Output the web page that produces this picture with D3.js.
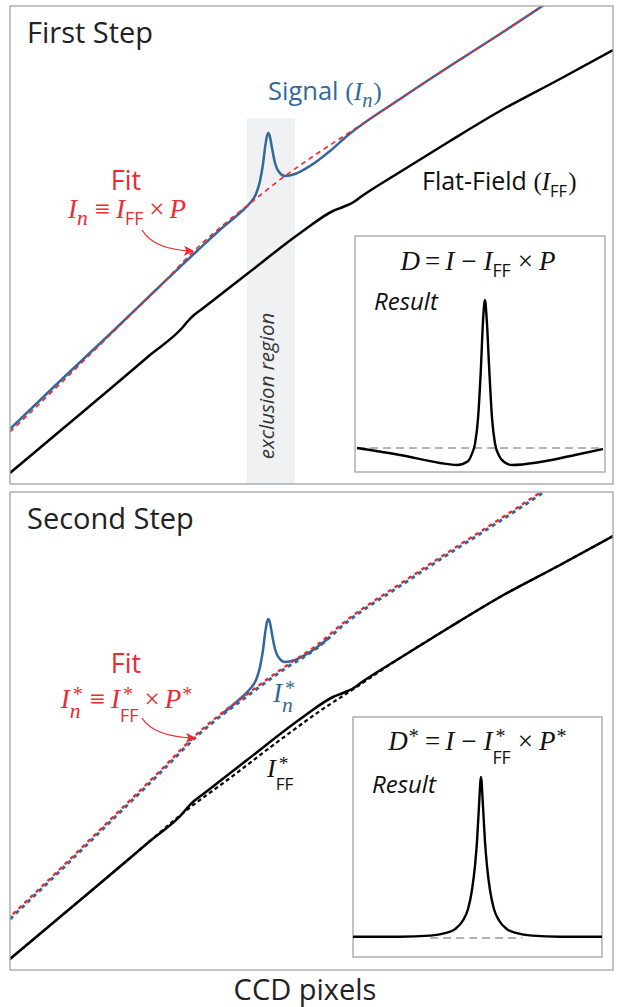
<!DOCTYPE html>
<html>
<head>
<meta charset="utf-8">
<script src="https://cdn.jsdelivr.net/npm/d3@7"></script>
<style>
  body { margin: 0; background: #fff; }
  svg { display: block; }
  text { white-space: pre; }
</style>
</head>
<body>
<div id="chart"></div>
<script>
// Values: x = CCD pixel, y = intensity (arbitrary units)
const signal = [[0,55],[50,103],[100,150],[150,198],[187,233],[212,256],[232,273],[240,281],[246,290],[250,303],[253,320],[255,336],[257,348],[258.5,351],[260,347],[262,336],[265,321],[269,312],[275,308],[285,310],[300,318],[320,333],[337,348],[390,385],[440,418],[490,450],[540,483]];
const fit1 = [[0,52],[50,100],[100,149],[150,198],[187,236],[212,258],[238,279],[275,308],[305,329],[337,350],[390,385],[440,418],[490,450],[540,483]];
const flatField = [[0,11],[50,53],[100,95],[140,129],[173,157],[178,163],[184,169],[192,175],[237,210],[293,253],[323,273],[333,277],[342,281],[352,288],[390,312],[440,343],[490,373],[550,405],[603,434]];
const flatFieldStar = [[0,11],[50,53],[100,95],[140,129],[173,157],[220,192],[270,230],[310,259],[345,282],[390,312],[440,343],[490,373],[550,405],[603,434]];
const fitStar = [[0,53],[50,101],[100,150],[150,199],[187,236],[240,278],[273,302],[307,325],[337,350],[390,386],[440,419],[490,451],[540,484]];
const signalStar = [[0,51],[50,99],[100,148],[150,197],[187,234],[240,276],[273,300],[307,322],[337,348],[390,384],[440,417],[490,449],[540,482]];
const exclusion = [237, 285];
const exclusionTop = 366;
// insets: x = 0..100 across the inset, y = difference (peak = 10)
const result1 = [[0,0],[17.5,-0.47],[33.7,-1.01],[40.7,-1.15],[45.1,-0.9],[46.7,-0.4],[48.0,0.3],[49.2,2.0],[50.4,5.5],[51.2,8.5],[52.0,10],[52.8,8.5],[53.7,5.5],[54.9,2.0],[56.1,0.3],[57.7,-0.5],[59.8,-0.95],[63.0,-1.15],[74.4,-0.95],[88.6,-0.47],[100,-0.07]];
const result2 = [[0,0.08],[18.9,0.08],[30.9,0.15],[36.9,0.3],[41.0,0.55],[44.2,1.1],[46.2,1.8],[47.8,3.0],[49.0,4.5],[49.8,6.0],[50.6,8.2],[51.4,10],[52.2,8.2],[53.0,6.0],[53.8,4.5],[55.0,3.0],[56.6,1.8],[58.6,1.1],[61.8,0.55],[65.9,0.3],[71.9,0.15],[83.1,0.08],[100,0.08]];
const zeroLine1 = [0, 100];
const zeroLine2 = [31, 68];
const arrowTips = [[183, 233], [185, 232]];

const W = 633, H = 1007;
const blue = "#31699c", red = "#ec2a2f", grey = "#a3a3a3";
const sans = "'Open Sans', 'Noto Sans', sans-serif";
const serif = "'Liberation Serif', 'DejaVu Serif', serif";

const svg = d3.select("#chart").append("svg").attr("width", W).attr("height", H);
const defs = svg.append("defs");
defs.append("marker").attr("id", "arrow").attr("viewBox", "0 0 10 10")
  .attr("refX", 9).attr("refY", 5).attr("markerWidth", 10).attr("markerHeight", 10)
  .attr("markerUnits", "userSpaceOnUse").attr("orient", "auto")
  .append("path").attr("d", "M0,0L10,5L0,10L2.5,5Z").attr("fill", red);

const x = d3.scaleLinear([0, 603], [10, 613]);
const panels = [
  { top: 6, bottom: 484 },
  { top: 492, bottom: 970 }
];

function piece(g, str, px, py, font, size, italic) {
  const t = g.append("text").attr("x", px).attr("y", py)
    .style("font-family", font).style("font-size", size + "px")
    .style("font-style", italic ? "italic" : "normal").text(str);
  return t.node().getComputedTextLength();
}

// lays out text pieces one after another; {sup, sub} pieces stack on one spot
function formula(parent, px, py, parts, size, color, anchor) {
  const g = parent.append("g").attr("fill", color);
  let cx = 0;
  for (const p of parts) {
    const pad = p.pad || 0;
    if (p.t != null) {
      cx += pad;
      cx += piece(g, p.t, cx, 0, p.serif ? serif : sans, p.size || size, p.it);
      cx += pad;
    } else {
      const stacked = !!p.sup && !!p.sub;
      let w1 = 0, w2 = 0;
      const sd = p.supDx == null ? 2 : p.supDx;
      if (p.sup) w1 = sd + piece(g, p.sup, cx + sd, -size * 0.26, serif, size * 0.75, false);
      if (p.sub) {
        const dy = p.subSerif ? (stacked ? 0.38 : 0.26) : (stacked ? 0.5 : 0.26);
        w2 = piece(g, p.sub, cx, size * dy, p.subSerif ? serif : sans,
          p.subSerif ? size * 0.8 : size * 0.66, p.subSerif);
      }
      cx += Math.max(w1, w2) + 1;
    }
  }
  const off = anchor === "middle" ? -cx / 2 : anchor === "end" ? -cx : 0;
  g.attr("transform", `translate(${px + off},${py})`);
  return g;
}

panels.forEach((p, i) => {
  const y = d3.scaleLinear([0, 478], [p.bottom, p.top]);
  const g = svg.append("g");
  const clipId = "clip" + i;
  defs.append("clipPath").attr("id", clipId).append("rect")
    .attr("x", 10).attr("y", p.top).attr("width", 603).attr("height", p.bottom - p.top);

  const line = d3.line().x(d => x(d[0])).y(d => y(d[1])).curve(d3.curveMonotoneX);
  const plot = g.append("g").attr("clip-path", `url(#${clipId})`);

  if (i === 0) {
    plot.append("rect")
      .attr("x", x(exclusion[0])).attr("width", x(exclusion[1]) - x(exclusion[0]))
      .attr("y", y(exclusionTop)).attr("height", y(0) - y(exclusionTop))
      .attr("fill", "#f0f1f3");
    plot.append("text")
      .attr("transform", `translate(${(x(exclusion[0]) + x(exclusion[1])) / 2 + 3},${386}) rotate(-90)`)
      .attr("text-anchor", "middle").style("font-family", sans).style("font-size", "20.5px")
      .style("font-style", "italic").attr("fill", "#333").text("exclusion region");

    plot.append("path").datum(flatField).attr("d", line)
      .attr("fill", "none").attr("stroke", "#000").attr("stroke-width", 2.5);
    plot.append("path").datum(signal).attr("d", line)
      .attr("fill", "none").attr("stroke", blue).attr("stroke-width", 2.5);
    plot.append("path").datum(fit1).attr("d", line)
      .attr("fill", "none").attr("stroke", red).attr("stroke-width", 1.6)
      .attr("stroke-dasharray", "5,4");
  } else {
    plot.append("path").datum(flatField).attr("d", line)
      .attr("fill", "none").attr("stroke", "#000").attr("stroke-width", 2.5);
    plot.append("path").datum(flatFieldStar).attr("d", line)
      .attr("fill", "none").attr("stroke", "#000").attr("stroke-width", 2.2)
      .attr("stroke-dasharray", "4,3");
    plot.append("path").datum(signal.filter(d => d[0] >= 190 && d[0] <= 330)).attr("d", line)
      .attr("fill", "none").attr("stroke", blue).attr("stroke-width", 2.5);
    plot.append("path").datum(signalStar).attr("d", line)
      .attr("fill", "none").attr("stroke", blue).attr("stroke-width", 3)
      .attr("stroke-dasharray", "4,4");
    plot.append("path").datum(fitStar).attr("d", line)
      .attr("fill", "none").attr("stroke", red).attr("stroke-width", 2.4)
      .attr("stroke-dasharray", "4,4").attr("stroke-dashoffset", 4);
  }

  g.append("rect").attr("x", 10).attr("y", p.top).attr("width", 603)
    .attr("height", p.bottom - p.top).attr("fill", "none")
    .attr("stroke", grey).attr("stroke-width", 1.3);

  // title
  g.append("text").attr("x", 27).attr("y", p.top + 37)
    .style("font-family", sans).style("font-size", "29px").attr("fill", "#222")
    .text(i === 0 ? "First Step" : "Second Step");

  // fit label + arrow
  const star = i === 1;
  g.append("text").attr("x", 126).attr("y", p.top + (i === 0 ? 184 : 181))
    .attr("text-anchor", "middle").style("font-family", sans).style("font-size", "27px")
    .attr("fill", red).text("Fit");
  formula(g, 127, p.top + (i === 0 ? 212 : 216), [
    { t: "I", serif: true, it: true },
    star ? { sup: "*", sub: "n", subSerif: true, supDx: 3 } : { sub: "n", subSerif: true },
    { t: "≡", serif: true, pad: 6 },
    { t: "I", serif: true, it: true },
    star ? { sup: "*", sub: "FF", supDx: 3 } : { sub: "FF" },
    { t: "×", serif: true, pad: 5 },
    { t: "P", serif: true, it: true },
    star ? { sup: "*", supDx: 1 } : null
  ].filter(Boolean), 27, red, "middle");

  const tip = arrowTips[i];
  const tx = x(tip[0]), ty = y(tip[1]);
  const sx = x(132), sy = p.top + (i === 0 ? 224 : 226);
  g.append("path")
    .attr("d", `M${sx},${sy} Q${sx + 12},${ty - 1} ${tx},${ty}`)
    .attr("fill", "none").attr("stroke", red).attr("stroke-width", 1.3)
    .attr("marker-end", "url(#arrow)");

  if (i === 0) {
    formula(g, 268, 100, [
      { t: "Signal " }, { t: "(", serif: true }, { t: "I", serif: true, it: true },
      { sub: "n", subSerif: true }, { t: ")", serif: true }
    ], 25.5, blue, "start");
    formula(g, 422, 190, [
      { t: "Flat-Field " }, { t: "(", serif: true }, { t: "I", serif: true, it: true },
      { sub: "FF" }, { t: ")", serif: true }
    ], 25, "#111", "start");
  } else {
    formula(g, 273, 702, [
      { t: "I", serif: true, it: true }, { sup: "*", sub: "n", subSerif: true, supDx: 3 }
    ], 27, blue, "start");
    formula(g, 267, 777, [
      { t: "I", serif: true, it: true }, { sup: "*", sub: "FF", supDx: 3 }
    ], 26, "#111", "start");
  }

  // inset
  const ins = i === 0
    ? { l: 355, r: 605, t: 236, b: 472, base: 448, peak: 300, data: result1, zero: zeroLine1, cl: 357, cr: 603 }
    : { l: 353, r: 602, t: 717, b: 957, base: 938, peak: 777, data: result2, zero: zeroLine2, cl: 353, cr: 602 };
  const ix = d3.scaleLinear([0, 100], [ins.cl, ins.cr]);
  const iy = d3.scaleLinear([0, 10], [ins.base, ins.peak]);
  const ig = g.append("g");
  ig.append("rect").attr("x", ins.l).attr("y", ins.t).attr("width", ins.r - ins.l)
    .attr("height", ins.b - ins.t).attr("fill", "#fff").attr("stroke", grey).attr("stroke-width", 1.3);
  ig.append("line").attr("x1", ix(ins.zero[0])).attr("x2", ix(ins.zero[1]))
    .attr("y1", iy(0)).attr("y2", iy(0)).attr("stroke", "#999").attr("stroke-width", 1.6)
    .attr("stroke-dasharray", "8,5");
  const iline = d3.line().x(d => ix(d[0])).y(d => iy(d[1])).curve(d3.curveMonotoneX);
  ig.append("path").datum(ins.data).attr("d", iline)
    .attr("fill", "none").attr("stroke", "#000").attr("stroke-width", 2.4);

  formula(ig, 478, i === 0 ? 270 : 750, [
    { t: "D", serif: true, it: true },
    star ? { sup: "*", supDx: 1 } : null,
    { t: "=", serif: true, pad: 5 },
    { t: "I", serif: true, it: true },
    { t: "−", serif: true, pad: 7 },
    { t: "I", serif: true, it: true },
    star ? { sup: "*", sub: "FF", supDx: 3 } : { sub: "FF" },
    { t: "×", serif: true, pad: 6 },
    { t: "P", serif: true, it: true },
    star ? { sup: "*", supDx: 1 } : null
  ].filter(Boolean), 27, "#111", "middle");
  ig.append("text").attr("x", ins.l + 19).attr("y", i === 0 ? 310 : 793)
    .style("font-family", sans).style("font-size", "24px").style("font-style", "italic")
    .attr("fill", "#111").text("Result");
});

svg.append("text").attr("x", 305).attr("y", 1000).attr("text-anchor", "middle")
  .style("font-family", sans).style("font-size", "29px").attr("fill", "#222").text("CCD pixels");
</script>
</body>
</html>
